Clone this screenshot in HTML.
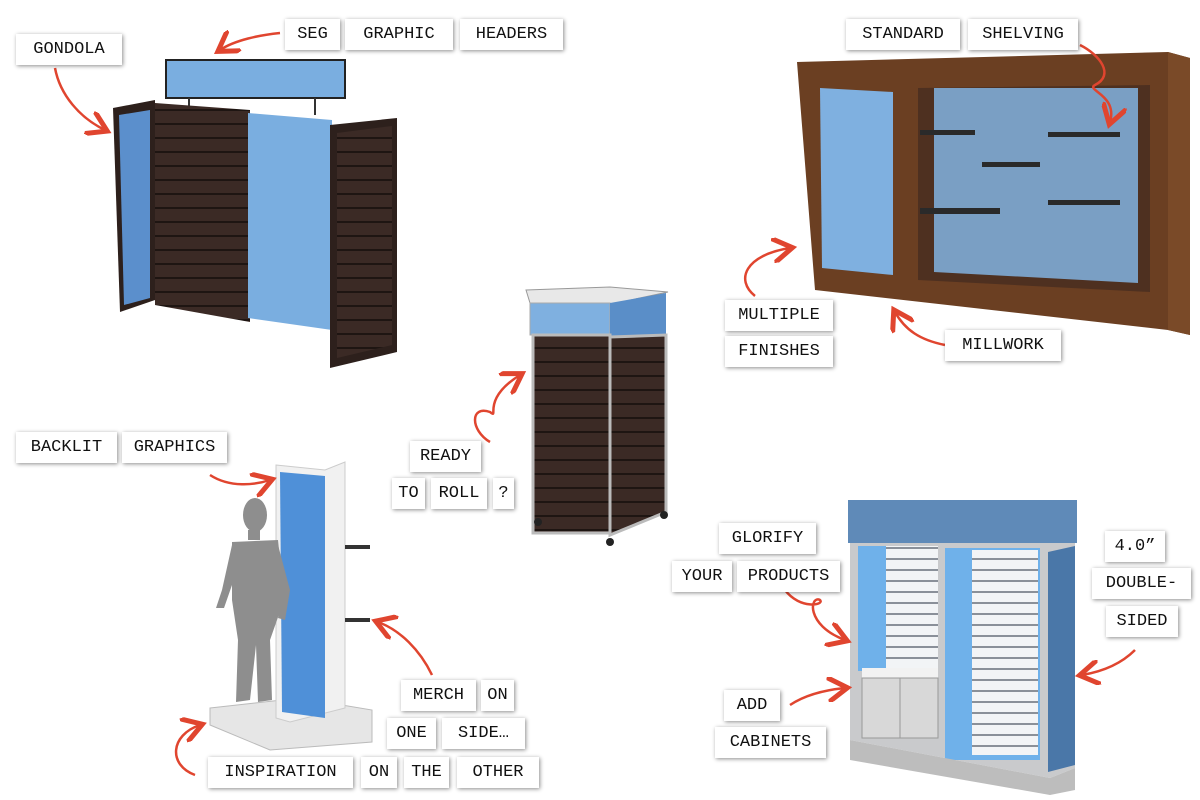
<!DOCTYPE html>
<html><head><meta charset="utf-8"><style>
body{margin:0;width:1200px;height:800px;background:#fff;position:relative;overflow:hidden;font-family:"Liberation Mono","DejaVu Sans Mono",monospace}
.l{position:absolute;background:#fff;box-shadow:1px 1px 4px rgba(0,0,0,.45);font-size:17px;color:#111;height:31px;line-height:31px;text-align:center}
svg{position:absolute;left:0;top:0}
</style></head><body>
<svg width="1200" height="800" viewBox="0 0 1200 800">
<defs>
<pattern id="sl" width="10" height="14" patternUnits="userSpaceOnUse"><rect width="10" height="14" fill="#3b2a25"/><rect y="11" width="10" height="2" fill="#1e1512"/></pattern>
<pattern id="ws" width="10" height="11" patternUnits="userSpaceOnUse"><rect width="10" height="11" fill="#f2f4f6"/><rect y="8" width="10" height="2" fill="#8a9099"/></pattern>
<marker id="ah" markerWidth="10" markerHeight="10" refX="7" refY="5" orient="auto"><path d="M0,0 L8,5 L0,10" fill="none" stroke="#e0452f" stroke-width="2"/></marker>
</defs>
<!-- gondola -->
<rect x="166" y="60" width="179" height="38" fill="#7aaee0" stroke="#222" stroke-width="2"/>
<line x1="189" y1="98" x2="189" y2="108" stroke="#333" stroke-width="2"/><line x1="315" y1="98" x2="315" y2="115" stroke="#333" stroke-width="2"/>
<polygon points="113,108 155,100 155,300 120,312" fill="#2d201c"/>
<polygon points="119,115 150,110 150,298 124,305" fill="#5b8fcc"/>
<polygon points="155,103 250,110 250,322 155,305" fill="url(#sl)"/>
<polygon points="248,113 332,120 332,330 248,318" fill="#7aaee0"/>
<polygon points="330,125 397,118 397,352 330,368" fill="#2d201c"/>
<polygon points="337,133 392,126 392,345 337,358" fill="url(#sl)"/>
<!-- shelving -->
<polygon points="797,62 1168,52 1190,58 1190,335 1168,330 815,290" fill="#6b3f22"/>
<polygon points="1168,52 1190,58 1190,335 1168,330" fill="#7a4a28"/>
<polygon points="820,88 893,92 893,275 822,268" fill="#7fb0e0"/>
<polygon points="918,88 1150,85 1150,292 918,280" fill="#4e3020"/>
<polygon points="934,88 1138,88 1138,283 934,272" fill="#7a9fc4"/>
<g fill="#2a2a2a"><rect x="920" y="130" width="55" height="5"/><rect x="1048" y="132" width="72" height="5"/><rect x="982" y="162" width="58" height="5"/><rect x="920" y="208" width="80" height="6"/><rect x="1048" y="200" width="72" height="5"/></g>
<!-- tower -->
<polygon points="526,290 610,287 668,292 612,304 530,303" fill="#e8e8e8" stroke="#999"/>
<rect x="530" y="303" width="80" height="32" fill="#7fb0e0" stroke="#aaa"/>
<polygon points="610,303 666,293 666,335 610,337" fill="#5a8ec8"/>
<rect x="533" y="335" width="77" height="198" fill="url(#sl)" stroke="#bbb" stroke-width="3"/>
<polygon points="610,337 666,335 666,512 610,535" fill="url(#sl)" stroke="#bbb" stroke-width="3"/>
<circle cx="538" cy="522" r="4" fill="#222"/><circle cx="610" cy="542" r="4" fill="#222"/><circle cx="664" cy="515" r="4" fill="#222"/>
<!-- mannequin display -->
<polygon points="210,708 300,698 372,710 372,742 270,750 210,725" fill="#e6e6e6" stroke="#bbb"/>
<polygon points="276,465 325,470 345,462 345,708 290,722 276,718" fill="#f1f1f1" stroke="#ccc"/>
<polygon points="280,472 325,476 325,718 282,712" fill="#4f90d8"/>
<rect x="345" y="545" width="25" height="4" fill="#333"/><rect x="345" y="618" width="25" height="4" fill="#333"/>
<g fill="#8e8e8e"><ellipse cx="255" cy="515" rx="12" ry="17"/><rect x="248" y="530" width="12" height="10"/><path d="M232,542 L278,540 L284,600 L270,640 L272,700 L258,702 L256,645 L250,700 L236,702 L238,640 L232,600 Z"/><path d="M232,545 L222,590 L216,608 L224,608 L232,585 Z"/><path d="M278,545 L290,590 L285,620 L278,618 L282,592 Z"/></g>
<!-- cabinet -->
<rect x="848" y="500" width="229" height="43" fill="#5f8ab8"/>
<polygon points="850,543 1075,543 1075,768 1050,778 850,740" fill="#c9cacc"/>
<rect x="858" y="546" width="78" height="125" fill="#6fb1ea"/>
<rect x="886" y="546" width="52" height="125" fill="url(#ws)"/>
<rect x="862" y="668" width="76" height="10" fill="#f2f2f2"/>
<rect x="862" y="678" width="76" height="60" fill="#d8d8d8" stroke="#999"/><line x1="900" y1="678" x2="900" y2="738" stroke="#999"/>
<rect x="945" y="548" width="95" height="212" fill="#6fb1ea"/>
<rect x="972" y="550" width="66" height="205" fill="url(#ws)"/>
<polygon points="1048,552 1075,546 1075,765 1048,772" fill="#4a77a8"/>
<polygon points="850,740 1050,778 1075,768 1075,790 1050,795 850,760" fill="#bdbdbd"/>
<!-- arrows -->
<g fill="none" stroke="#e0452f" stroke-width="2.5" marker-end="url(#ah)">
<path d="M280,33 C260,35 235,40 220,50"/>
<path d="M55,68 C60,95 80,118 105,130"/>
<path d="M1080,45 C1100,55 1115,75 1095,85 C1085,90 1118,95 1110,122"/>
<path d="M755,296 C735,280 745,255 790,248"/>
<path d="M945,345 C920,340 905,330 895,312"/>
<path d="M490,442 C470,430 470,405 490,412 C500,420 480,400 520,375"/>
<path d="M210,475 C230,488 255,485 270,480"/>
<path d="M432,675 C420,650 400,630 378,622"/>
<path d="M195,775 C168,765 170,735 200,725"/>
<path d="M785,590 C800,610 825,605 820,600 C810,595 805,625 845,640"/>
<path d="M790,705 C805,695 825,690 845,688"/>
<path d="M1135,650 C1120,665 1100,672 1082,675"/>
</g>
</svg>
<div class="l" style="left:16px;top:34px;width:106px">GONDOLA</div>
<div class="l" style="left:285px;top:19px;width:55px">SEG</div>
<div class="l" style="left:345px;top:19px;width:108px">GRAPHIC</div>
<div class="l" style="left:460px;top:19px;width:103px">HEADERS</div>
<div class="l" style="left:846px;top:19px;width:114px">STANDARD</div>
<div class="l" style="left:968px;top:19px;width:110px">SHELVING</div>
<div class="l" style="left:725px;top:300px;width:108px">MULTIPLE</div>
<div class="l" style="left:725px;top:336px;width:108px">FINISHES</div>
<div class="l" style="left:945px;top:330px;width:116px">MILLWORK</div>
<div class="l" style="left:410px;top:441px;width:71px">READY</div>
<div class="l" style="left:392px;top:478px;width:33px">TO</div>
<div class="l" style="left:431px;top:478px;width:56px">ROLL</div>
<div class="l" style="left:493px;top:478px;width:21px">?</div>
<div class="l" style="left:16px;top:432px;width:101px">BACKLIT</div>
<div class="l" style="left:122px;top:432px;width:105px">GRAPHICS</div>
<div class="l" style="left:401px;top:680px;width:75px">MERCH</div>
<div class="l" style="left:481px;top:680px;width:33px">ON</div>
<div class="l" style="left:387px;top:718px;width:49px">ONE</div>
<div class="l" style="left:442px;top:718px;width:83px">SIDE…</div>
<div class="l" style="left:208px;top:757px;width:145px">INSPIRATION</div>
<div class="l" style="left:361px;top:757px;width:36px">ON</div>
<div class="l" style="left:404px;top:757px;width:45px">THE</div>
<div class="l" style="left:457px;top:757px;width:82px">OTHER</div>
<div class="l" style="left:719px;top:523px;width:97px">GLORIFY</div>
<div class="l" style="left:672px;top:561px;width:60px">YOUR</div>
<div class="l" style="left:737px;top:561px;width:103px">PRODUCTS</div>
<div class="l" style="left:1105px;top:531px;width:60px">4.0”</div>
<div class="l" style="left:1092px;top:568px;width:99px">DOUBLE-</div>
<div class="l" style="left:1106px;top:606px;width:72px">SIDED</div>
<div class="l" style="left:724px;top:690px;width:56px">ADD</div>
<div class="l" style="left:715px;top:727px;width:111px">CABINETS</div>
</body></html>
